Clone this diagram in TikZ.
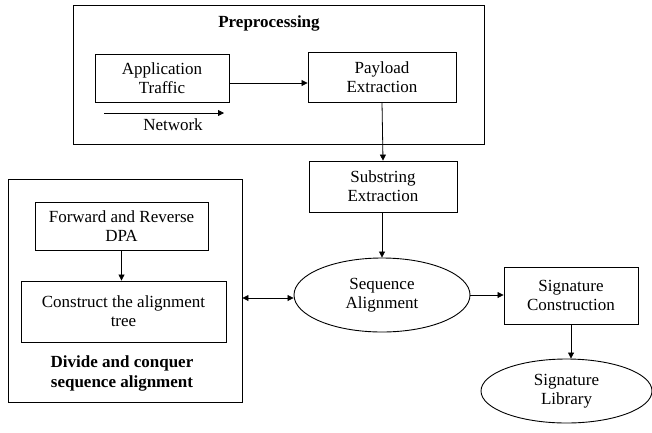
\documentclass[tikz,border=0pt]{standalone}
\usepackage{fontspec}
\setmainfont{Liberation Serif}
\usetikzlibrary{shapes.geometric,arrows.meta}
\begin{document}
\begin{tikzpicture}[x=1pt,y=-1pt,
  every node/.style={font=\rmfamily\fontsize{17}{19}\selectfont, align=center, inner sep=0pt},
  box/.style={draw, line width=0.9pt},
  ell/.style={draw, ellipse, line width=0.9pt},
  lbl/.style={font=\rmfamily\fontsize{17}{20}\selectfont\bfseries},
  conn/.style={line width=0.8pt, -{Triangle[length=6pt,width=6pt]}},
  dconn/.style={line width=0.8pt, {Triangle[length=6pt,width=6pt]}-{Triangle[length=6pt,width=6pt]}}]
\useasboundingbox (0,0) rectangle (652,432);
% containers
\node[box, minimum width=411pt, minimum height=139pt] (pre) at (278.5,75) {};
\node[lbl] (pretxt) at (269,23) {Preprocessing};
\node[box, minimum width=234pt, minimum height=223pt] (dc) at (125,290.5) {};
\node[lbl] (dctxt) at (122,373) {Divide and conquer\\sequence alignment};
% boxes
\node[box, minimum width=134pt, minimum height=48pt] (app) at (162,78) {Application\\Traffic};
\node[box, minimum width=148pt, minimum height=50pt] (pay) at (382,77) {Payload\\Extraction};
\node[box, minimum width=148pt, minimum height=51pt] (sub) at (383,186.5) {Substring\\Extraction};
\node[box, minimum width=173pt, minimum height=48pt] (fwd) at (121.5,226) {Forward and Reverse\\DPA};
\node[box, minimum width=205pt, minimum height=61pt] (con) at (123.5,311.5) {Construct the alignment\\tree};
\node[box, minimum width=134pt, minimum height=57pt] (sig) at (571,295.5) {Signature\\Construction};
\node[ell, minimum width=176pt, minimum height=74pt] (seq) at (382,295) {Sequence\\Alignment};
\node[ell, minimum width=171pt, minimum height=64pt] (lib) at (566.5,391) {Signature\\Library};
% network arrow
\coordinate (n1) at (104,113);
\coordinate (n2) at (224,113);
\draw[conn] (n1) -- (n2);
\node (net) at (173,125) {Network};
% connectors
\draw[conn] (app.east |- 0,83) -- (pay.west |- 0,83);
\draw[conn] (pay.south) -- (sub.north);
\draw[conn] (sub.south -| seq.north) -- (seq.north);
\draw[conn] (fwd.south) -- (fwd.south |- con.north);
\draw[dconn] (dc.east |- 0,298) -- (seq.west |- 0,298);
\draw[conn] (seq.east) -- (sig.west |- seq.east);
\draw[conn] (sig.south) -- (sig.south |- lib.north);
\end{tikzpicture}
\end{document}
